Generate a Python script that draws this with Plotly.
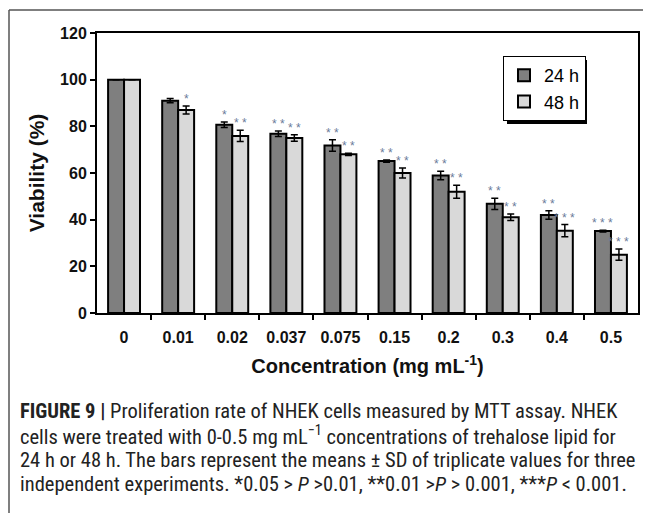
import plotly.graph_objects as go

categories = ["0", "0.01", "0.02", "0.037", "0.075", "0.15", "0.2", "0.3", "0.4", "0.5"]
viab_24h = [100, 91, 80.7, 76.8, 71.8, 65.1, 58.9, 46.8, 42.0, 35.1]
err_24h = [0, 0.9, 1.2, 1.2, 2.5, 0.5, 1.8, 2.4, 1.8, 0.4]
viab_48h = [100, 87.0, 75.9, 75.0, 68.0, 60.0, 52.0, 41.0, 35.3, 25.0]
err_48h = [0, 1.7, 2.4, 1.4, 0.5, 2.1, 2.8, 1.4, 2.6, 2.4]
stars_24h = ["", "", "*", "**", "**", "**", "**", "**", "**", "***"]
stars_48h = ["", "*", "**", "**", "**", "**", "**", "**", "***", "***"]

# page has an 8px body margin; size the figure so it fits the 651x513 window
OFF = 8
W, H = 651 - OFF, 513 - OFF
L, T = 97 - OFF, 33 - OFF
pw, ph = 541, 280
R, B = W - L - pw, H - T - ph

def px(x):  # page x -> paper
    return (x - OFF - L) / pw

def py(y):  # page y -> paper
    return (T + ph - (y - OFF)) / ph

BARGAP = 0.41
half = (1 - BARGAP) / 4
xs = list(range(len(categories)))

fig = go.Figure()
fig.add_trace(go.Bar(
    name="24 h", x=xs, y=viab_24h,
    marker=dict(color="#7f7f7f", line=dict(color="black", width=2)),
    error_y=dict(type="data", array=err_24h, color="black", thickness=1.5, width=3.5),
))
fig.add_trace(go.Bar(
    name="48 h", x=xs, y=viab_48h,
    marker=dict(color="#d9d9d9", line=dict(color="black", width=2)),
    error_y=dict(type="data", array=err_48h, color="black", thickness=1.5, width=3.5),
))

star_font = dict(family="Liberation Sans, Arial", size=12, color="#6b7a99")
for i, (s, v, e) in enumerate(zip(stars_24h, viab_24h, err_24h)):
    if s:
        fig.add_annotation(x=i - half, y=v + e, text=" ".join(s), showarrow=False,
                           yanchor="bottom", xanchor="center", font=star_font, yshift=-2)
for i, (s, v, e) in enumerate(zip(stars_48h, viab_48h, err_48h)):
    if s:
        fig.add_annotation(x=i + half, y=v + e, text=" ".join(s), showarrow=False,
                           yanchor="bottom", xanchor="center", font=star_font, yshift=-2)

cap_font = "Liberation Sans Narrow, Roboto Condensed, DejaVu Sans Condensed, Arial Narrow, sans-serif"
caption = [
    "<b>FIGURE 9 |</b> Proliferation rate of NHEK cells measured by MTT assay. NHEK",
    "cells were treated with 0-0.5 mg mL<sup>−1</sup> concentrations of trehalose lipid for",
    "24 h or 48 h. The bars represent the means ± SD of triplicate values for three",
    "independent experiments. *0.05 &gt; <i>P</i> &gt;0.01, **0.01 &gt;<i>P</i> &gt; 0.001, ***<i>P</i> &lt; 0.001.",
]
for k, line in enumerate(caption):
    fig.add_annotation(xref="paper", yref="paper", x=px(18), y=py(411 + 24.3 * k),
                       text=line, showarrow=False, xanchor="left", yanchor="middle",
                       align="left", font=dict(family=cap_font, size=20.5, color="#222"))

# outer frame (left and top)
fig.add_shape(type="line", xref="paper", yref="paper", x0=px(9), x1=px(9), y0=py(10), y1=py(530),
              line=dict(color="#555", width=1.5))
fig.add_shape(type="line", xref="paper", yref="paper", x0=px(9), x1=px(670), y0=py(10), y1=py(10),
              line=dict(color="#555", width=1.5))

# legend shadow
lx0, ly0, lw, lh = 503, 56, 80, 64
fig.add_shape(type="rect", xref="paper", yref="paper", x0=px(lx0 + 4), x1=px(lx0 + lw + 4),
              y0=py(ly0 + 4), y1=py(ly0 + lh + 4), fillcolor="black", line=dict(width=0), layer="above")

fig.update_layout(
    width=W, height=H, margin=dict(l=L, r=R, t=T, b=B, autoexpand=False),
    barmode="group", bargap=BARGAP, bargroupgap=0,
    plot_bgcolor="white", paper_bgcolor="white",
    showlegend=True,
    legend=dict(x=px(lx0), y=py(ly0), xanchor="left", yanchor="top",
                bgcolor="white", bordercolor="black", borderwidth=1,
                font=dict(family="Liberation Sans, Arial", size=18, color="black"),
                itemwidth=30, tracegroupgap=0),
)
fig.update_xaxes(
    type="linear", range=[-0.5, len(categories) - 0.5], automargin=False,
    tickmode="array", tickvals=xs, ticktext=categories,
    showline=True, linecolor="black", linewidth=2, mirror=True,
    ticks="", ticklabelstandoff=9, showgrid=False, zeroline=False,
    minor=dict(tickvals=[i + 0.5 for i in xs[:-1]], ticks="outside", ticklen=5,
               tickwidth=1.5, tickcolor="black", showgrid=False),
    tickfont=dict(family="Liberation Sans, Arial", size=16, color="#111", weight="bold"),
    title=dict(text="<b>Concentration (mg mL<sup>-1</sup>)</b>", standoff=14,
               font=dict(family="Liberation Sans, Arial", size=20, color="#111")),
)
fig.update_yaxes(
    range=[0, 120], dtick=20, automargin=False,
    showline=True, linecolor="black", linewidth=2, mirror=True,
    ticks="outside", ticklen=5, tickwidth=1.5, tickcolor="black", showgrid=False, zeroline=False,
    tickfont=dict(family="Liberation Sans, Arial", size=16, color="#111", weight="bold"),
    title=dict(text="<b>Viability (%)</b>", standoff=10,
               font=dict(family="Liberation Sans, Arial", size=21, color="#111")),
)

fig.write_html("out.html")
